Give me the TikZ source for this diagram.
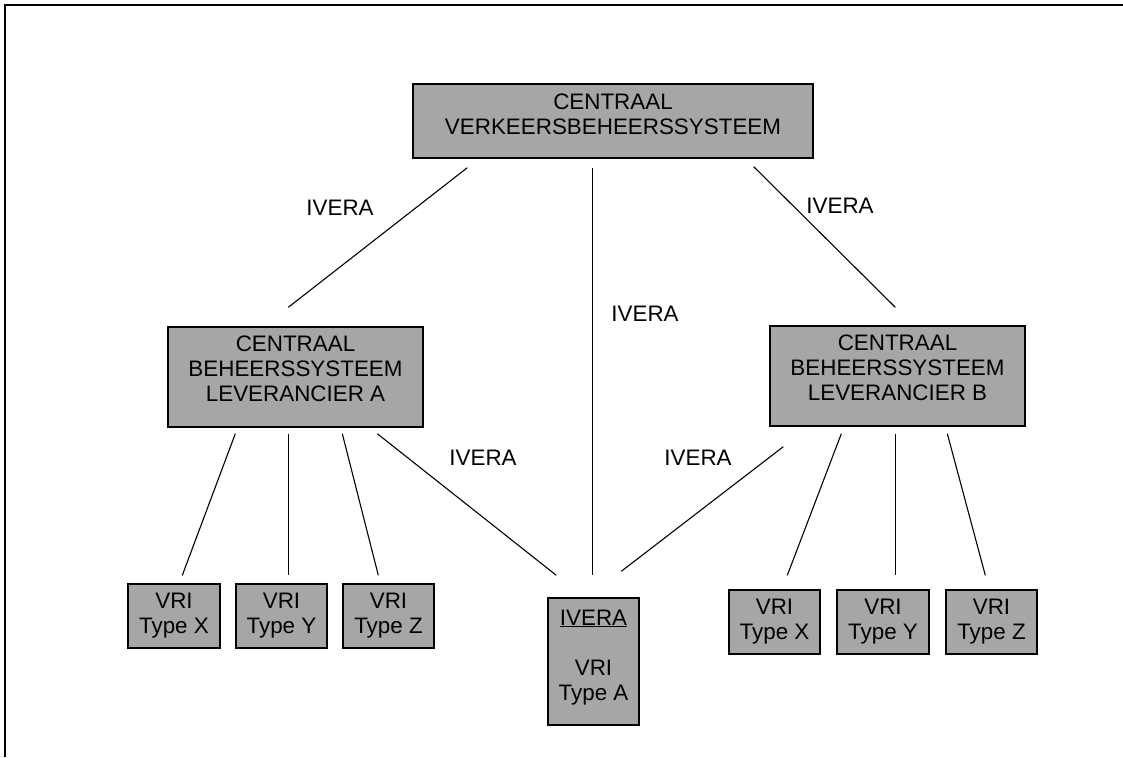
\documentclass[tikz,border=0pt]{standalone}
\usepackage{fontspec}
\setmainfont{Liberation Sans}
\definecolor{boxgray}{RGB}{166,166,166}
\newcommand{\lowpad}[1]{\rule[-#1]{0pt}{#1}}
\begin{document}
\begin{tikzpicture}[x=1pt,y=-1pt,
  box/.style={draw=black, line width=1.4pt, fill=boxgray, inner sep=0pt,
    align=center, font=\fontsize{22.4}{25}\selectfont},
  link/.style={draw=black, line width=1.1pt},
  lbl/.style={inner sep=0pt, font=\fontsize{22.4}{25}\selectfont}]
\useasboundingbox (0,0) rectangle (1123,757);
\draw[line width=2pt] (1123,5) -- (5,5) -- (5,757);

\node[box, minimum width=400pt, minimum height=74pt] (top) at (613,121)
  {CENTRAAL\\VERKEERSBEHEERSSYSTEEM\lowpad{13pt}};
\node[box, minimum width=255pt, minimum height=100pt] (A) at (295.5,377)
  {CENTRAAL\\BEHEERSSYSTEEM\\LEVERANCIER A\lowpad{16pt}};
\node[box, minimum width=255pt, minimum height=100pt] (B) at (897.5,376)
  {CENTRAAL\\BEHEERSSYSTEEM\\LEVERANCIER B\lowpad{16pt}};

\node[box, minimum width=92pt, minimum height=64pt] (LX) at (174,616) {VRI\\Type X};
\node[box, minimum width=91pt, minimum height=64pt] (LY) at (281.5,616) {VRI\\Type Y};
\node[box, minimum width=91pt, minimum height=64pt] (LZ) at (388.5,616) {VRI\\Type Z};

\node[box, minimum width=91pt, minimum height=64pt] (RX) at (774.5,622) {VRI\\Type X};
\node[box, minimum width=92pt, minimum height=64pt] (RY) at (883,622) {VRI\\Type Y};
\node[box, minimum width=91pt, minimum height=64pt] (RZ) at (991.5,622) {VRI\\Type Z};

\node[box, minimum width=91pt, minimum height=127pt] (mid) at (593.5,661.5)
  {\underline{IVERA}\\[25pt]VRI\\Type A\lowpad{13pt}};

% connectors
\draw[link] ([shift={(55,9)}]top.south west) -- ([shift={(121,-19)}]A.north west);
\draw[link] ([shift={(180,9)}]top.south west) -- ([shift={(45,-22)}]mid.north west);
\draw[link] ([shift={(-60,8)}]top.south east) -- ([shift={(126,-18)}]B.north west);

\draw[link] ([shift={(68,6)}]A.south west) -- ([shift={(55,-8)}]LX.north west);
\draw[link] ([shift={(121,6)}]A.south west) -- ([shift={(53,-8)}]LY.north west);
\draw[link] ([shift={(175,6)}]A.south west) -- ([shift={(36,-8)}]LZ.north west);
\draw[link] ([shift={(210,6)}]A.south west) -- ([shift={(9,-22)}]mid.north west);

\draw[link] ([shift={(14,20)}]B.south west) -- ([shift={(74,-26)}]mid.north west);
\draw[link] ([shift={(72,7)}]B.south west) -- ([shift={(59,-14)}]RX.north west);
\draw[link] ([shift={(126,7)}]B.south west) -- ([shift={(59,-14)}]RY.north west);
\draw[link] ([shift={(178,7)}]B.south west) -- ([shift={(40,-14)}]RZ.north west);

% labels
\node[lbl] (l1) at (340,208) {IVERA};
\node[lbl] (l2) at (840,206) {IVERA};
\node[lbl] (l3) at (645,314) {IVERA};
\node[lbl] (l4) at (483,458) {IVERA};
\node[lbl] (l5) at (698,458) {IVERA};
\end{tikzpicture}
\end{document}
